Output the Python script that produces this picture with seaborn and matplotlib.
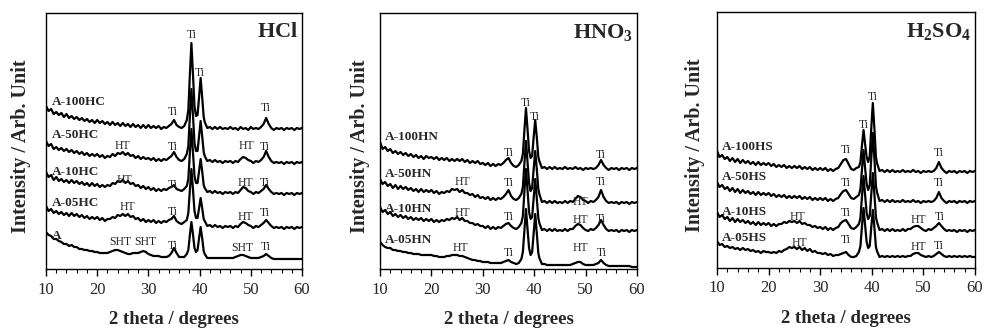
import numpy as np
import pandas as pd
import matplotlib
matplotlib.use("Agg")
import matplotlib.pyplot as plt
from matplotlib.ticker import MultipleLocator
import seaborn as sns

sns.set_style("white")
plt.rcParams["font.family"] = ["Liberation Serif", "DejaVu Serif"]
plt.rcParams["mathtext.fontset"] = "custom"
plt.rcParams["mathtext.rm"] = "Liberation Serif"
plt.rcParams["mathtext.bf"] = "Liberation Serif:bold"
plt.rcParams["mathtext.it"] = "Liberation Serif:italic"

# 2-theta sampling grid (degrees)
theta = np.concatenate([np.arange(10.0, 37.51, 0.5),
                        np.round(np.arange(37.8, 40.81, 0.3), 1),
                        np.arange(41.0, 60.01, 0.5)])

# ---------------- HCl ----------------
hcl_A100HC = [163,158,160,155,157,154,156,152,155,151,
              153,150,152,149,151,148,150,147,149,146,
              149,146,148,145,147,144,147,144,146,143,
              146,143,145,142,145,142,144,141,144,141,
              144,141,143,141,143,140,142,141,143,145,
              149,144,142,141,143,149,
              159,194,226,195,163,153,154,172,191,172,152,
              147,141,142,140,142,140,142,140,141,140,
              142,140,141,139,142,140,141,139,142,140,
              141,140,142,145,151,145,141,139,141,140,
              141,139,141,140,141,139,141,140,141]
hcl_A50HC = [128,123,125,120,122,119,121,118,120,117,
             119,116,118,115,117,114,116,113,115,113,
             115,112,114,111,113,112,115,113,116,115,
             117,114,116,113,114,111,113,110,112,110,
             111,109,111,108,110,108,110,109,111,113,
             117,112,109,108,110,115,
             123,153,180,154,126,118,118,133,148,133,117,
             113,108,109,107,109,107,108,106,108,107,
             108,106,108,107,110,112,111,109,108,106,
             108,107,109,112,118,112,108,106,107,106,
             107,105,107,106,107,105,107,106,107]
hcl_A10HC = [97,92,94,89,92,88,90,87,89,86,
             89,86,88,85,87,84,86,83,86,83,
             85,82,84,82,84,83,86,85,88,87,
             89,86,88,85,86,83,84,81,83,80,
             82,79,81,78,80,78,80,79,81,82,
             84,80,79,78,80,83,
             90,116,140,117,93,86,86,98,110,98,84,
             81,77,78,76,78,76,77,75,77,76,
             77,75,77,76,79,82,81,78,77,75,
             77,76,78,80,84,80,77,75,76,75,
             76,74,76,75,76,74,76,75,76]
hcl_A05HC = [63,58,60,56,58,55,57,54,56,53,
             56,53,55,52,54,51,53,50,52,50,
             52,49,51,48,50,50,52,51,54,53,
             55,53,55,52,53,50,51,48,50,47,
             49,47,49,46,48,46,48,47,49,50,
             53,48,46,45,47,49,
             56,79,100,80,58,51,51,61,71,61,50,
             48,43,44,42,44,42,43,41,43,42,
             43,41,43,42,45,47,46,44,43,41,
             43,42,44,46,49,46,43,41,42,41,
             42,40,42,41,42,40,42,41,42]
hcl_A = [37,34,33,30,30,28,27,25,25,23,
         24,22,22,20,20,19,19,18,18,17,
         17,16,16,16,16,17,18,19,19,18,
         17,16,15,15,16,16,16,17,18,17,
         15,14,13,13,13,12,12,12,13,16,
         21,16,12,12,12,15,
         19,34,47,35,21,17,19,31,42,31,18,
         15,11,11,11,11,11,11,11,11,11,
         11,11,12,13,14,14,13,12,11,11,
         11,11,12,13,15,13,11,10,10,10,
         10,10,10,10,10,10,10,10,10]

# ---------------- HNO3 ----------------
hno_A100HN = [127,120,122,118,120,116,118,115,117,114,
              116,113,115,112,114,111,113,110,113,111,
              112,110,112,109,111,109,111,108,110,108,
              110,108,110,107,109,106,108,106,108,105,
              106,104,106,103,105,103,105,104,106,109,
              111,106,103,102,104,108,
              115,139,161,140,118,111,113,132,149,132,112,
              108,101,102,100,102,100,102,100,101,100,
              102,100,101,100,102,100,101,99,101,100,
              101,100,101,104,109,104,101,99,101,100,
              101,99,101,100,101,99,101,100,101]
hno_A50HN = [90,85,87,83,85,81,84,80,83,80,
             82,79,81,78,80,77,80,77,79,77,
             79,76,78,75,77,76,78,77,80,79,
             80,77,79,76,76,74,75,72,74,71,
             72,70,72,69,71,69,71,70,72,75,
             79,73,70,69,71,75,
             82,106,128,107,86,78,81,100,118,100,80,
             75,67,68,66,68,66,68,66,67,66,
             68,66,68,67,70,73,72,69,68,66,
             68,67,69,72,79,72,68,66,67,66,
             67,65,67,66,67,65,67,66,67]
hno_A10HN = [62,57,59,55,57,53,55,52,54,51,
             53,50,52,49,51,49,51,48,50,48,
             50,47,49,47,49,48,50,49,51,50,
             52,49,51,48,48,46,46,44,45,43,
             43,41,43,40,42,40,42,41,43,45,
             46,43,41,40,42,46,
             53,78,100,79,57,50,52,71,90,71,51,
             46,39,40,38,40,38,40,38,39,38,
             40,38,40,40,43,45,44,41,39,38,
             40,39,41,44,49,44,40,38,39,38,
             39,37,39,38,39,37,39,38,39]
hno_A05HN = [27,24,22,21,21,19,19,18,18,17,
             17,16,16,15,15,15,14,14,14,14,
             14,13,13,12,12,12,13,13,14,14,
             14,13,13,12,11,10,9,9,8,8,
             7,7,7,6,6,6,6,6,7,8,
             9,7,6,5,6,10,
             17,39,60,40,21,14,17,36,55,36,16,
             11,5,5,4,4,4,4,4,4,4,
             4,4,4,5,6,7,7,5,4,4,
             4,4,5,6,9,6,4,3,3,3,
             3,3,3,3,3,3,2,2,2]

# ---------------- H2SO4 ----------------
hso_A100HS = [117,111,113,109,111,107,110,106,109,105,
              108,105,107,104,106,103,106,103,105,103,
              105,102,104,101,103,101,103,100,102,100,
              102,100,102,99,101,99,101,98,100,98,
              100,98,100,97,99,97,99,100,104,108,
              109,104,99,98,100,101,
              106,123,138,124,111,106,112,140,165,140,111,
              105,97,98,96,98,96,98,96,97,96,
              98,96,97,96,98,96,97,95,97,96,
              97,96,97,100,106,100,97,95,97,96,
              97,95,97,96,97,95,97,96,97]
hso_A50HS = [86,81,83,79,81,77,80,76,79,75,
             78,75,77,74,76,73,76,73,75,73,
             75,72,74,71,73,71,73,70,72,70,
             72,70,72,69,71,69,71,68,70,68,
             70,68,70,67,69,67,69,70,74,77,
             78,74,70,69,71,73,
             79,99,118,100,84,78,83,110,135,110,82,
             76,67,68,66,68,66,68,66,67,66,
             68,66,67,66,68,66,67,65,67,66,
             67,66,67,70,76,70,67,65,67,66,
             67,65,67,66,67,65,67,66,67]
hso_A10HS = [56,51,53,49,51,47,50,46,49,46,
             48,45,47,44,46,43,46,43,45,43,
             45,42,44,42,44,44,46,45,47,46,
             47,45,47,44,45,43,43,41,42,40,
             41,39,41,38,40,38,40,41,45,47,
             48,44,40,39,41,44,
             50,72,92,73,55,49,52,74,95,74,51,
             46,38,39,37,39,37,39,37,38,37,
             39,37,39,39,41,42,42,40,38,37,
             39,38,40,42,45,42,39,37,38,37,
             38,36,38,37,38,36,38,37,38]
hso_A05HS = [27,23,24,21,22,20,21,19,20,18,
             20,18,19,17,18,16,17,15,17,16,
             16,15,16,15,17,16,18,19,21,20,
             21,19,21,18,20,17,19,16,17,15,
             15,14,15,13,14,12,13,13,14,15,
             16,13,11,11,12,16,
             22,42,60,43,26,20,22,41,58,41,21,
             17,11,12,11,12,11,12,11,12,11,
             12,11,12,12,14,15,15,13,12,11,
             12,11,12,14,16,14,12,11,12,11,
             12,11,12,11,12,11,12,11,11]

panels = [
    {"title": r"$\mathbf{HCl}$",
     "series": {"A-100HC": hcl_A100HC, "A-50HC": hcl_A50HC, "A-10HC": hcl_A10HC,
                "A-05HC": hcl_A05HC, "A": hcl_A},
     "names": [("A-100HC", 167), ("A-50HC", 134), ("A-10HC", 97), ("A-05HC", 66), ("A", 33)],
     "name_x": 11.2,
     "peaks": [("Ti", 38.5, 234), ("Ti", 40.1, 196), ("Ti", 34.8, 157), ("Ti", 53.0, 161),
               ("HT", 25.0, 123), ("Ti", 34.8, 122), ("HT", 49.1, 123), ("Ti", 52.8, 122),
               ("HT", 25.4, 89), ("Ti", 34.8, 84), ("HT", 48.9, 86), ("Ti", 52.8, 86),
               ("HT", 26.0, 62), ("Ti", 34.8, 57), ("HT", 48.9, 52), ("Ti", 52.8, 56),
               ("SHT", 24.5, 27), ("SHT", 29.4, 27), ("Ti", 34.8, 23), ("SHT", 48.4, 21),
               ("Ti", 53.0, 22)]},
    {"title": r"$\mathbf{HNO_3}$",
     "series": {"A-100HN": hno_A100HN, "A-50HN": hno_A50HN, "A-10HN": hno_A10HN,
                "A-05HN": hno_A05HN},
     "names": [("A-100HN", 132), ("A-50HN", 95), ("A-10HN", 60), ("A-05HN", 29)],
     "name_x": 11.0,
     "peaks": [("Ti", 38.4, 166), ("Ti", 40.1, 152), ("Ti", 35.0, 116), ("Ti", 53.0, 114),
               ("HT", 26.0, 87), ("Ti", 35.1, 86), ("HT", 48.9, 67), ("Ti", 53.0, 87),
               ("HT", 26.0, 56), ("Ti", 35.1, 52), ("HT", 49.0, 49), ("Ti", 53.0, 50),
               ("HT", 25.6, 21), ("Ti", 35.1, 16), ("HT", 49.0, 21), ("Ti", 53.2, 16)]},
    {"title": r"$\mathbf{H_2SO_4}$",
     "series": {"A-100HS": hso_A100HS, "A-50HS": hso_A50HS, "A-10HS": hso_A10HS,
                "A-05HS": hso_A05HS},
     "names": [("A-100HS", 121), ("A-50HS", 91), ("A-10HS", 56), ("A-05HS", 30)],
     "name_x": 11.0,
     "peaks": [("Ti", 40.2, 171), ("Ti", 38.5, 143), ("Ti", 35.0, 118), ("Ti", 53.0, 115),
               ("Ti", 35.0, 85), ("Ti", 53.0, 85),
               ("HT", 25.5, 51), ("Ti", 35.0, 55), ("HT", 49.0, 48), ("Ti", 53.2, 51),
               ("HT", 26.0, 25), ("Ti", 35.0, 28), ("HT", 49.0, 21), ("Ti", 53.0, 22)]},
]

W, H = 985, 331
fig = plt.figure(figsize=(W / 100, H / 100), dpi=100)
boxes = [(46, 269, 256), (380, 269, 257), (717, 268, 258)]
ylab_x = [-0.058, -0.040, -0.048]

for p, (lx, by, w), ylx in zip(panels, boxes, ylab_x):
    ax = fig.add_axes([lx / W, (H - by) / H, w / W, 256 / H])
    rows = []
    for name, vals in p["series"].items():
        rows.append(pd.DataFrame({"theta": theta, "intensity": vals, "sample": name}))
    df = pd.concat(rows, ignore_index=True)
    sns.lineplot(data=df, x="theta", y="intensity", units="sample", estimator=None,
                 color="black", lw=1.6, ax=ax)
    ax.set_xlim(10, 60)
    ax.set_ylim(0, 256)
    ax.set_yticks([])
    ax.xaxis.set_major_locator(MultipleLocator(10))
    ax.xaxis.set_minor_locator(MultipleLocator(2))
    ax.tick_params(axis="x", which="major", direction="out", length=5, width=1,
                   labelsize=12, pad=4, bottom=True, color="black")
    ax.tick_params(axis="x", which="minor", direction="out", length=3, width=0.8,
                   bottom=True, color="black")
    for s in ax.spines.values():
        s.set_color("black")
        s.set_linewidth(1.0)
    ax.set_xlabel("2 theta / degrees", fontsize=13.5, fontweight="bold")
    ax.xaxis.set_label_coords(0.5, -0.165)
    ax.set_ylabel("Intensity / Arb. Unit", fontsize=14.5, fontweight="bold")
    ax.yaxis.set_label_coords(ylx, 0.48)
    ax.text(0.985, 0.925, p["title"], transform=ax.transAxes, ha="right", va="center",
            fontsize=16)
    for name, y in p["names"]:
        ax.text(p["name_x"], y, name, ha="left", va="center", fontsize=9.5,
                fontweight="bold")
    for lab, x, y in p["peaks"]:
        ax.text(x, y, lab, ha="center", va="center", fontsize=8.5)

fig.savefig("out.png", dpi=100)
